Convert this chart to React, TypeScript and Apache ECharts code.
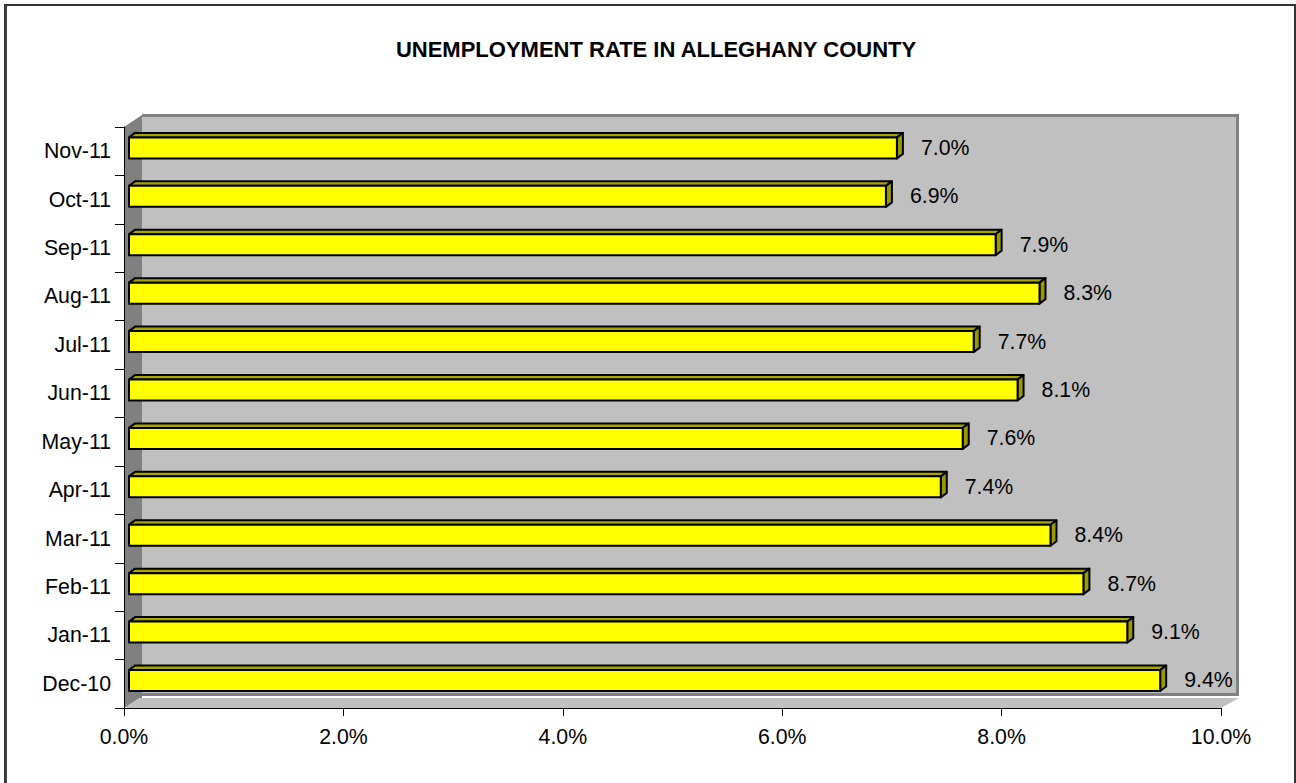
import React, { useEffect, useRef } from "react";
import * as echarts from "echarts";

const categories = ["Dec-10", "Jan-11", "Feb-11", "Mar-11", "Apr-11", "May-11", "Jun-11", "Jul-11", "Aug-11", "Sep-11", "Oct-11", "Nov-11"];
const rates = [9.4, 9.1, 8.7, 8.4, 7.4, 7.6, 8.1, 7.7, 8.3, 7.9, 6.9, 7.0];
const xTicks = [0, 2, 4, 6, 8, 10];
const titleText = "UNEMPLOYMENT RATE IN ALLEGHANY COUNTY";

const W = 1296;
const H = 783;
const GL = 124;
const GR = 75;
const GT = 127;
const GB = 75;
const DX = 18;
const DY = 12;
const FONT = "Arial, 'Liberation Sans', sans-serif";
const FS = 21.3;

export default function App() {
  const ref = useRef<HTMLDivElement>(null);
  useEffect(() => {
    if (!ref.current) return;
    const chart = echarts.init(ref.current, null, { renderer: "svg" });
    const x0 = GL, x1 = W - GR, y0 = GT, y1 = H - GB;
    const option: any = {
      animation: false,
      backgroundColor: "#ffffff",
      title: {
        text: titleText,
        left: 651,
        textAlign: "center",
        top: 33,
        textStyle: { fontFamily: FONT, fontSize: 22, fontWeight: "bold", color: "#000" },
      },
      grid: { left: GL, right: GR, top: GT, bottom: GB, containLabel: false },
      xAxis: {
        type: "value",
        min: xTicks[0],
        max: xTicks[xTicks.length - 1],
        interval: 2,
        z: 5,
        axisLine: { show: true, lineStyle: { color: "#000", width: 1 } },
        axisTick: { show: true, length: 8, lineStyle: { color: "#000" } },
        splitLine: { show: false },
        axisLabel: {
          margin: 18,
          fontFamily: FONT,
          fontSize: FS,
          color: "#000",
          formatter: (v: number) => v.toFixed(1) + "%",
        },
      },
      yAxis: {
        type: "category",
        data: categories,
        z: 5,
        axisLine: { show: true, lineStyle: { color: "#000", width: 1 } },
        axisTick: { show: true, length: 9, alignWithLabel: false, lineStyle: { color: "#000" } },
        axisLabel: { margin: 13, fontFamily: FONT, fontSize: FS, color: "#000" },
        splitLine: { show: false },
      },
      graphic: [
        { type: "rect", z: 1, shape: { x: x0 + DX, y: y0 - DY - 1, width: x1 - x0 + 0, height: y1 - y0 + 1 }, style: { fill: "#808080" } },
        { type: "rect", z: 1, shape: { x: x0 + DX, y: y0 - DY + 2, width: x1 - x0 - 3, height: y1 - y0 - 5 }, style: { fill: "#c0c0c0" } },
        { type: "polygon", z: 1, shape: { points: [[x0, y0], [x0 + DX, y0 - DY], [x0 + DX, y1 - DY + 2], [x0, y1]] }, style: { fill: "#808080" } },
        { type: "polygon", z: 1, shape: { points: [[x0, y1], [x0 + DX - 3, y1 - DY + 2], [x1 + DX, y1 - DY + 2], [x1, y1]] }, style: { fill: "#c0c0c0" } },
        { type: "rect", z: 1, shape: { x: 5, y: 5, width: 1290, height: 800 }, style: { fill: "none", stroke: "#333", lineWidth: 2 } },
        { type: "line", z: 1, shape: { x1: 6, y1: 5, x2: 6, y2: 783 }, style: { stroke: "#404040", lineWidth: 2 } },
      ],
      series: [
        {
          type: "custom",
          z: 10,
          encode: { x: 1, y: 0 },
          data: rates.map((v, i) => [i, v]),
          renderItem: (params: any, api: any) => {
            const cat = api.value(0);
            const v = api.value(1);
            const p0 = api.coord([0, cat]);
            const p1 = api.coord([v, cat]);
            const cy = p0[1] - 3.3;
            const h = 21;
            const fx0 = p0[0] + 5;
            const fx1 = p1[0] + 5;
            const fy0 = cy - h / 2;
            const fy1 = cy + h / 2;
            const dx = 6, dy = 4.5;
            const edge = { stroke: "#000", lineWidth: 2, lineJoin: "round" };
            return {
              type: "group",
              children: [
                { type: "polygon", shape: { points: [[fx0, fy0], [fx0 + dx, fy0 - dy], [fx1 + dx, fy0 - dy], [fx1, fy0]] }, style: { fill: "#a6a600", ...edge } },
                { type: "polygon", shape: { points: [[fx1, fy0], [fx1 + dx, fy0 - dy], [fx1 + dx, fy1 - dy], [fx1, fy1]] }, style: { fill: "#999900", ...edge } },
                { type: "rect", shape: { x: fx0, y: fy0, width: fx1 - fx0, height: h }, style: { fill: "#ffff00", ...edge } },
                {
                  type: "text",
                  style: {
                    text: v.toFixed(1) + "%",
                    x: fx1 + dx + 18,
                    y: cy,
                    fill: "#000",
                    font: FS + "px " + FONT,
                    verticalAlign: "middle",
                    align: "left",
                  },
                },
              ],
            };
          },
        },
      ],
    };
    chart.setOption(option);
    return () => chart.dispose();
  }, []);
  return <div ref={ref} style={{ position: "absolute", left: 0, top: 0, width: W, height: H, background: "#fff" }} />;
}
